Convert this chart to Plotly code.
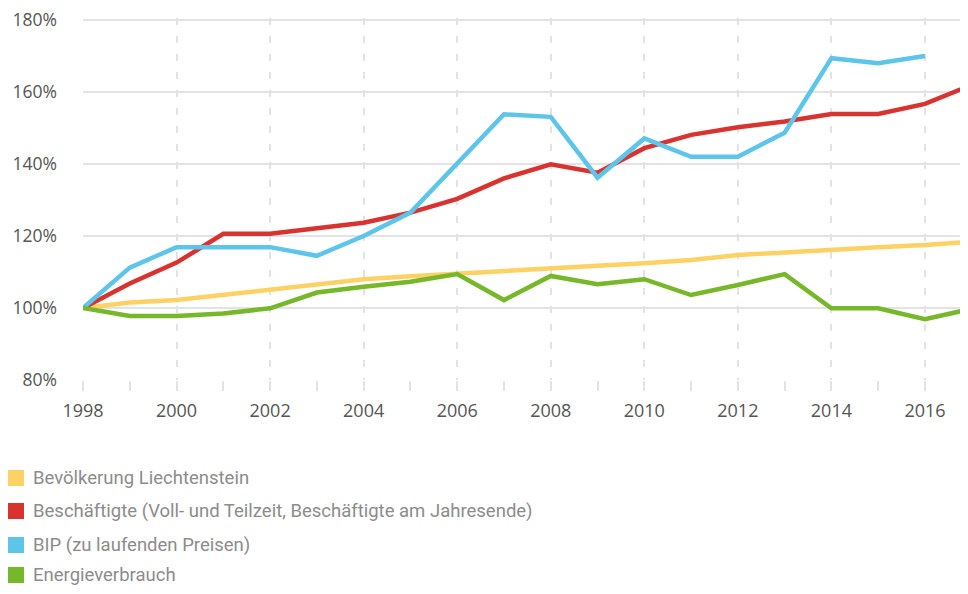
import plotly.graph_objects as go

years = list(range(1998, 2018))

bevoelkerung = [100, 101.5, 102.2, 103.7, 105.2, 106.6, 108.0, 108.8, 109.6, 110.4,
                111.0, 111.7, 112.4, 113.3, 114.7, 115.5, 116.3, 116.9, 117.5, 118.4]
beschaeftigte = [100, 106.8, 112.6, 120.6, 120.6, 122.1, 123.7, 126.5, 130.3, 136.0,
                 139.9, 137.6, 144.4, 148.1, 150.2, 151.8, 153.9, 153.9, 156.7, 162.0]
bip = [100, 111.2, 116.9, 116.9, 116.9, 114.5, 120.0, 126.5, 140.2, 153.8,
       153.1, 136.2, 147.1, 142.0, 142.0, 148.7, 169.4, 168.0, 170.0, None]
energie = [100, 97.8, 97.8, 98.5, 99.9, 104.3, 105.9, 107.3, 109.4, 102.2,
           108.9, 106.6, 108.0, 103.6, 106.4, 109.4, 99.9, 99.9, 96.9, 99.8]

y_ticks = [80, 100, 120, 140, 160, 180]
y_labels = ["%d%%" % v for v in y_ticks]

names = ["Bevölkerung Liechtenstein",
         "Beschäftigte (Voll- und Teilzeit, Beschäftigte am Jahresende)",
         "BIP (zu laufenden Preisen)",
         "Energieverbrauch"]
colors = ["#fdd163", "#d93330", "#5ec5ea", "#76b82a"]
series = [bevoelkerung, beschaeftigte, bip, energie]

W, H = 960, 578
L, T, B = 75, 10, 206
plot_w = W - L
plot_h = H - T - B

fig = go.Figure()
for name, col, vals in zip(names, colors, series):
    fig.add_trace(go.Scatter(x=years, y=vals, mode="lines", name=name,
                             line=dict(color=col, width=4.5), showlegend=False))

# legend drawn by hand: square swatch + grey label
legend_rows = [470, 503, 537, 567]  # pixel centre of each row from figure top
for (name, col, py) in zip(names, colors, legend_rows):
    yc = (H - B - py) / plot_h
    half = 8 / plot_h
    fig.add_shape(type="rect", xref="paper", yref="paper",
                  x0=(0 - L) / plot_w, x1=(16 - L) / plot_w,
                  y0=yc - half, y1=yc + half,
                  fillcolor=col, line=dict(width=0))
    fig.add_annotation(xref="paper", yref="paper", x=(23 - L) / plot_w, y=yc,
                       xanchor="left", yanchor="middle", showarrow=False,
                       text=name, font=dict(family="Roboto", size=18.5, color="#8c8c8c"))

fig.update_layout(
    width=W, height=H,
    margin=dict(l=L, r=0, t=T, b=B),
    plot_bgcolor="white",
    paper_bgcolor="white",
    font=dict(family="Open Sans", color="#555555"),
    showlegend=False,
    xaxis=dict(
        range=[1998, 2016.92],
        dtick=2, tick0=1998,
        showgrid=True, gridcolor="#e3e3e3", griddash="7px,11px", gridwidth=1.5,
        ticks="outside", ticklen=10, tickcolor="#e3e3e3", tickwidth=1.5,
        minor=dict(dtick=1, ticks="outside", ticklen=10, tickcolor="#e3e3e3",
                   tickwidth=1.5, showgrid=False),
        showline=False, zeroline=False,
        tickfont=dict(size=18, color="#555555"),
        ticklabelstandoff=4,
    ),
    yaxis=dict(
        range=[80, 180.55],
        tickmode="array", tickvals=y_ticks, ticktext=y_labels,
        showgrid=True, gridcolor="#e3e3e3", gridwidth=1.5,
        zeroline=False, showline=False, automargin=False,
        ticklabeloverflow="allow",
        tickfont=dict(size=17.5, color="#555555"),
        ticklabelstandoff=25,
    ),
)

fig.write_html("out.html")
